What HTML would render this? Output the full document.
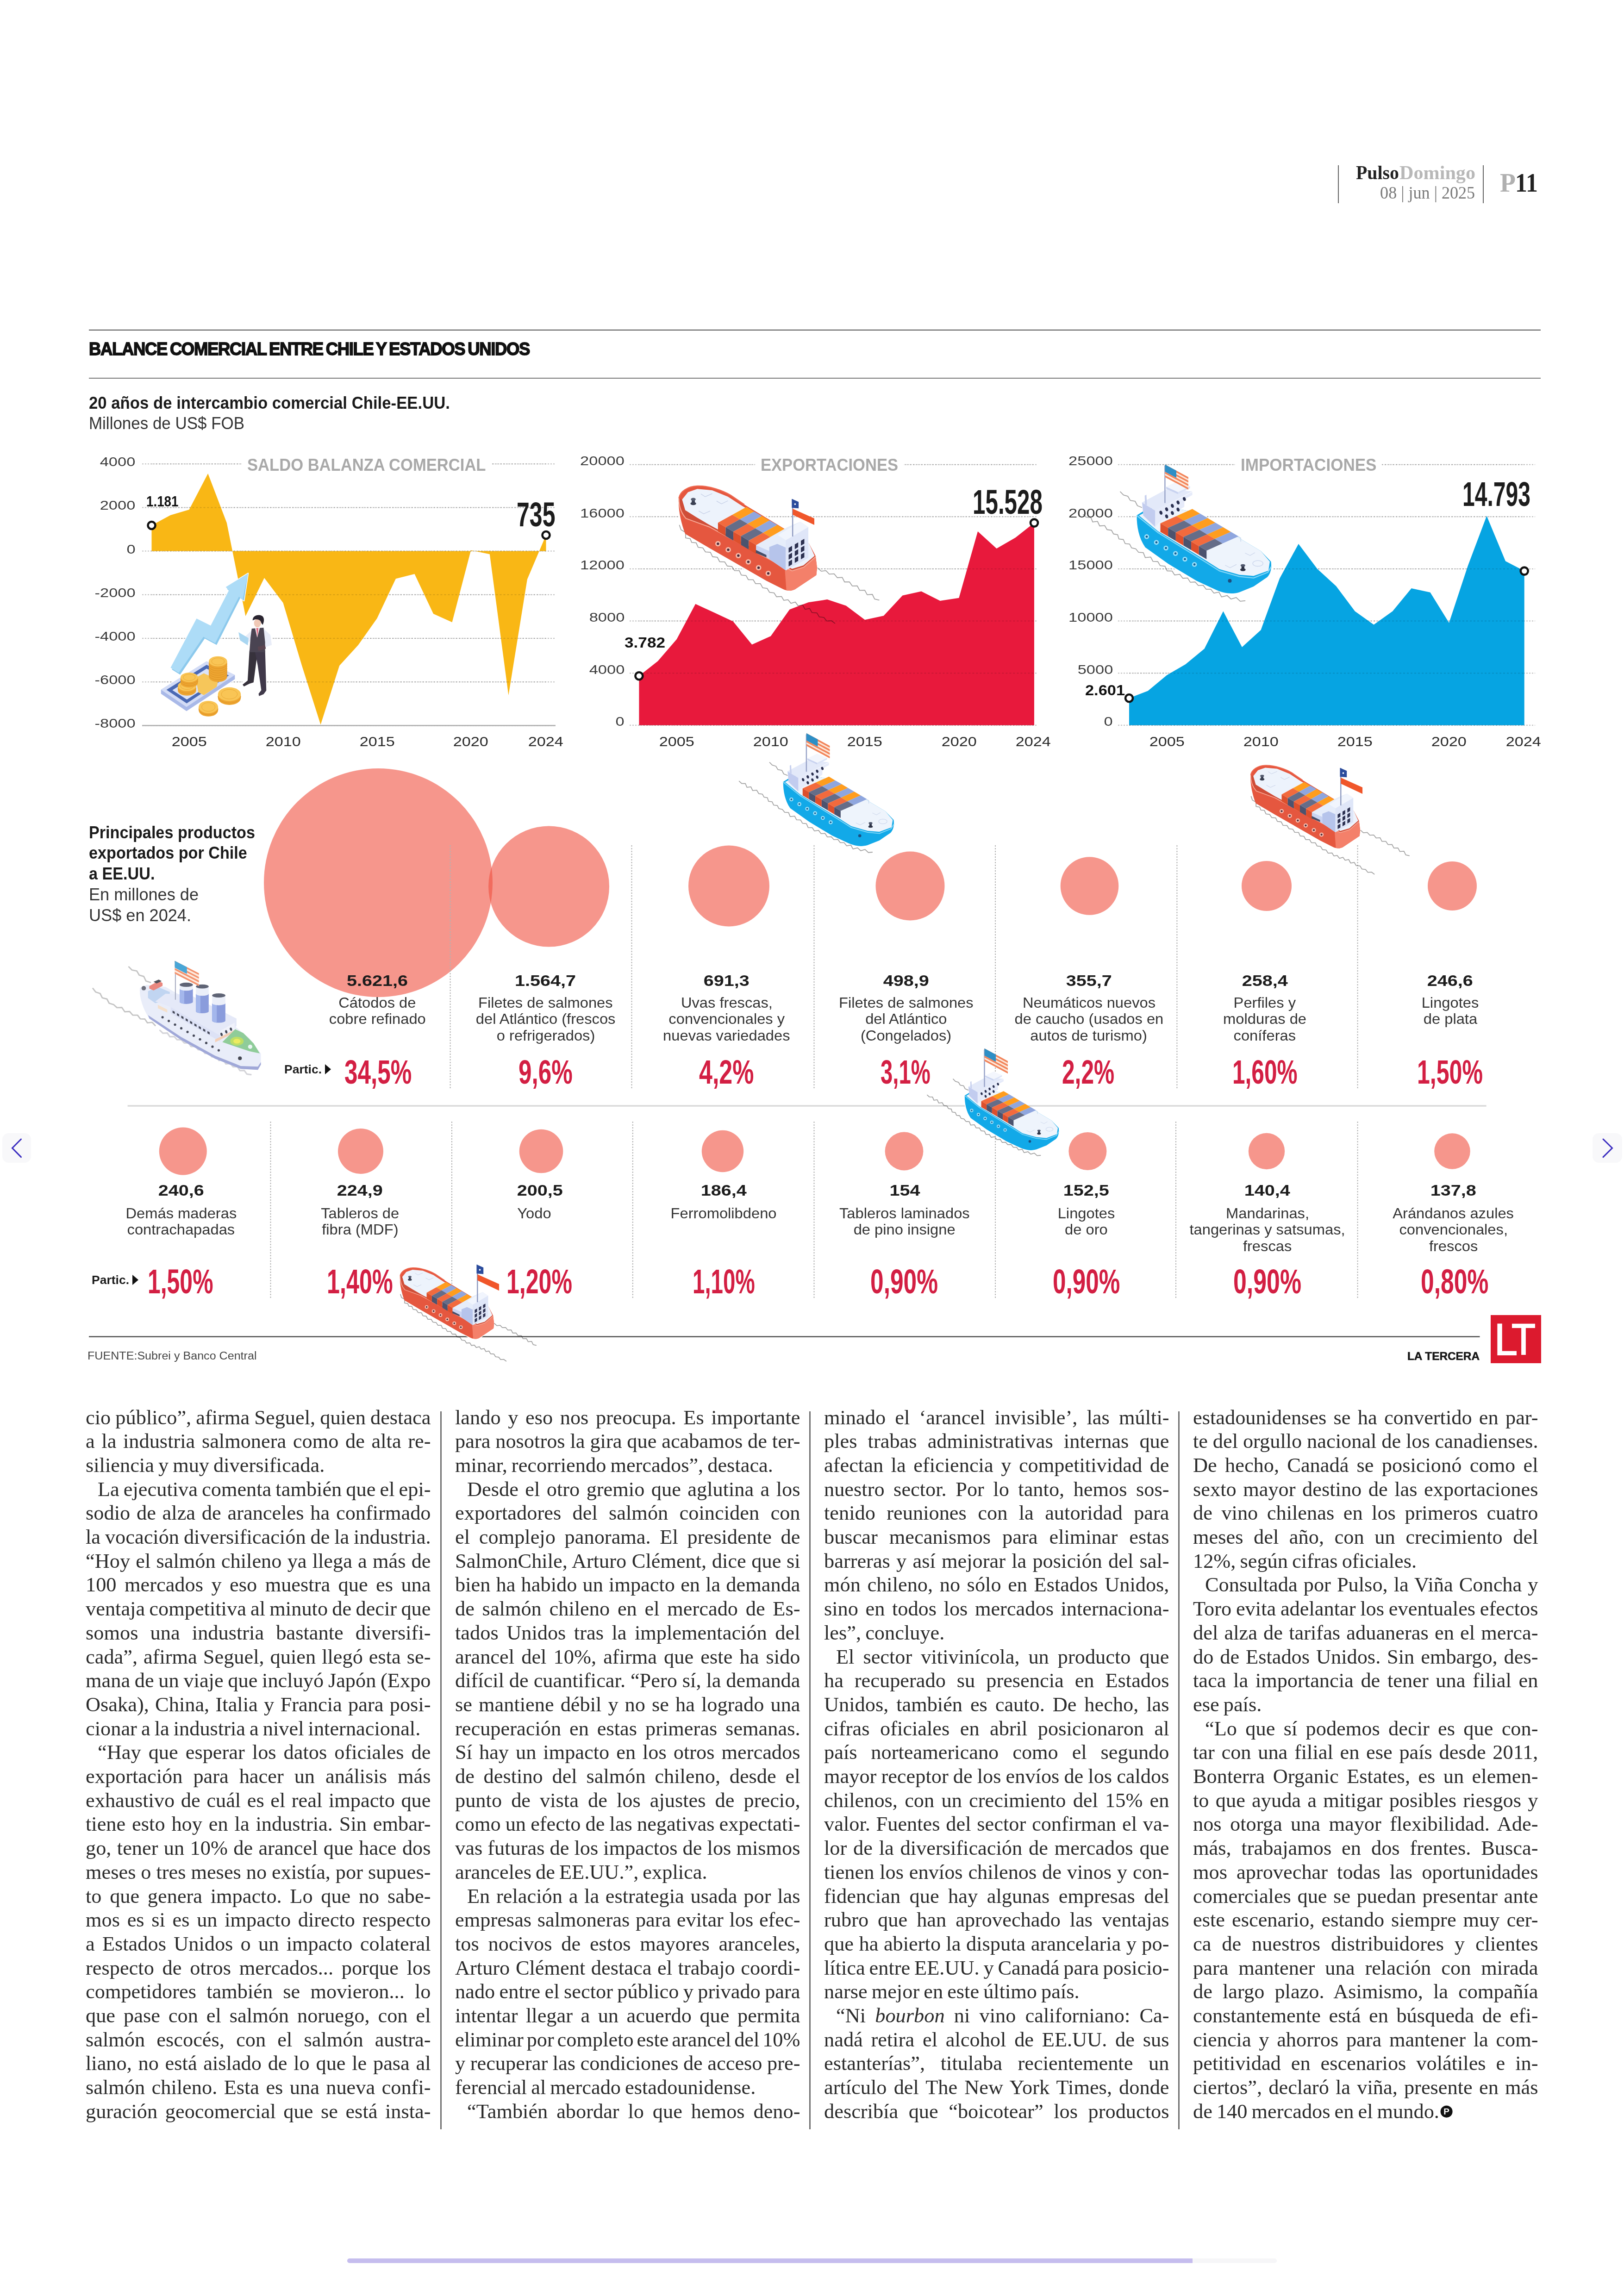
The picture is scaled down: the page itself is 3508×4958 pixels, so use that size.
<!DOCTYPE html><html lang="es"><head><meta charset="utf-8"><title>Balance comercial entre Chile y Estados Unidos</title>
<style>

html,body{margin:0;padding:0;background:#fff}
#pg{position:relative;width:3508px;height:4958px;overflow:hidden;background:#fff}
.t{position:absolute;white-space:nowrap;line-height:1;margin:0;padding:0}
.sa{font-family:"Liberation Sans",sans-serif}
.se{font-family:"Liberation Serif",serif}
.b{font-size:43.5px;color:#2b2b2b;transform:scaleX(1.02);transform-origin:left top}
.r{position:absolute}
svg{position:absolute;left:0;top:0}

</style></head><body><div id="pg">
<svg width="3508" height="4958" viewBox="0 0 3508 4958">
<defs><g id="redship"><g stroke="#fff" stroke-width="16" stroke-linejoin="round" fill="#fff"><path d="M85,150 C95,100 150,68 215,65 C300,62 400,100 450,130 L545,195 L1000,470 L1045,555 L1055,640 L1050,690 L900,790 C880,800 850,802 820,790 L700,730 L500,615 L300,500 L130,400 C100,320 80,230 85,150 Z"/></g>
<path d="M90,340 L101,372 L134,391 L133,429 L165,434 L176,461 L207,463 L221,495 L254,499 L272,527 L307,530 L322,561 L356,565 L372,596 L407,597 L425,626 L458,630 L476,658 L510,659 L524,690 L557,693 L573,722 L607,722 L624,750 L658,750 L674,779 L705,783 L722,811 L754,815 L771,842 L806,840 L822,867 L852,863 L872,888 L903,879 L922,905 L954,899 L971,930 L1003,924 L1020,953 L1054,955 L1071,983 L1103,987 L1123,1012 L1156,1010 L1180,1028" fill="none" stroke="#a3a3a3" stroke-width="1.80" vector-effect="non-scaling-stroke" stroke-linejoin="round" stroke-linecap="round" style="mix-blend-mode:multiply"/>
<path d="M1060,640 L1084,662 L1118,659 L1141,683 L1175,681 L1197,708 L1232,706 L1248,738 L1283,738 L1302,766 L1337,765 L1354,797 L1390,796 L1407,828 L1443,825 L1459,858 L1490,865" fill="none" stroke="#a3a3a3" stroke-width="1.80" vector-effect="non-scaling-stroke" stroke-linejoin="round" stroke-linecap="round" style="mix-blend-mode:multiply"/>
<path d="M85,150 C95,100 150,68 215,65 C300,62 400,100 450,130 L545,195 L1000,470 L1045,555 L1055,640 L1050,690 L900,790 C880,800 850,802 820,790 L700,730 L500,615 L300,500 L130,400 C100,320 80,230 85,150 Z" fill="#e5573f"/>
<polygon points="830,660 1045,555 1056,640 1050,690 900,790 870,800 840,797" fill="#f4806a" />
<polygon points="108,160 150,108 215,85 320,95 430,140 530,205 1000,470 1038,555 960,622 880,646 620,518 300,338 210,285 130,235" fill="#edf3fc" />
<polygon points="88,150 108,160 130,235 210,285 300,338 880,646 960,622 1038,555 1047,560 962,634 880,660 300,352 135,292 98,235" fill="#cf4d38" />
<path d="M86,152 C86,200 98,250 135,292 L300,352 L620,527 L880,660 L962,634 L1047,560" fill="none" stroke="#f7a592" stroke-width="7" stroke-linejoin="round"/>
<path d="M86,150 C95,100 150,68 215,65 C300,62 400,100 450,130 L545,195" fill="none" stroke="#ee6a52" stroke-width="8"/>
<ellipse cx="187" cy="188" rx="20" ry="11" fill="#3b4052"/><rect x="176" y="158" width="22" height="30" fill="#3b4052"/><ellipse cx="187" cy="158" rx="17" ry="10" fill="#555c70"/>
<path d="M240,120 L270,140 L320,118 M350,170 L385,190 L430,168 M225,240 L260,260 L305,240" fill="none" stroke="#c5cfe6" stroke-width="4"/>
<circle cx="360" cy="470" r="19" fill="#f7b9a9"/><circle cx="360" cy="470" r="8.6" fill="#4a2c3c"/>
<circle cx="432" cy="512" r="19" fill="#f7b9a9"/><circle cx="432" cy="512" r="8.6" fill="#4a2c3c"/>
<circle cx="503" cy="553" r="19" fill="#f7b9a9"/><circle cx="503" cy="553" r="8.6" fill="#4a2c3c"/>
<circle cx="573" cy="597" r="19" fill="#f7b9a9"/><circle cx="573" cy="597" r="8.6" fill="#4a2c3c"/>
<circle cx="645" cy="638" r="19" fill="#f7b9a9"/><circle cx="645" cy="638" r="8.6" fill="#4a2c3c"/>
<circle cx="713" cy="678" r="19" fill="#f7b9a9"/><circle cx="713" cy="678" r="8.6" fill="#4a2c3c"/>
<polygon points="460,267 514,298 614,244 560,212" fill="#ff9d1e" />
<polygon points="514,298 568,330 668,275 614,244" fill="#8fa6de" />
<polygon points="568,330 622,362 722,306 668,275" fill="#ff9d1e" />
<polygon points="622,362 676,393 776,338 722,306" fill="#8fa6de" />
<polygon points="676,393 730,424 830,370 776,338" fill="#ff9d1e" />
<polygon points="360,322 414,354 514,298 460,267" fill="#f26a3d" />
<polygon points="360,322 414,354 414,416 360,384" fill="#dd4f2c" />
<polygon points="414,354 468,385 568,330 514,298" fill="#656d88" />
<polygon points="414,354 468,385 468,447 414,416" fill="#4c536e" />
<polygon points="468,385 522,416 622,362 568,330" fill="#f26a3d" />
<polygon points="468,385 522,416 522,478 468,447" fill="#dd4f2c" />
<polygon points="522,416 576,448 676,393 622,362" fill="#656d88" />
<polygon points="522,416 576,448 576,510 522,478" fill="#4c536e" />
<polygon points="576,448 630,480 730,424 676,393" fill="#f26a3d" />
<polygon points="576,448 630,480 630,542 576,510" fill="#dd4f2c" />
<polygon points="630,480 700,516 700,562 630,530" fill="#474e68" />
<polygon points="628,479 848,353 938,315 994,353 994,569 836,657 628,515" fill="#e6edfa" />
<polygon points="628,481 720,521 720,577 628,521" fill="#c9d4f2" />
<polygon points="626,513 700,549 700,566 626,534" fill="#474e68" />
<polygon points="720,493 776,471 836,497 836,657 720,577" fill="#b6c4eb" />
<polygon points="836,445 994,353 994,569 836,657" fill="#dfe6f8" />
<polygon points="836,445 994,353 938,315 780,409" fill="#f1f5fd" />
<polygon points="856,499 880,485 880,519 856,533" fill="#2d3150" />
<polygon points="899,474 923,460 923,494 899,508" fill="#2d3150" />
<polygon points="942,449 966,435 966,469 942,483" fill="#2d3150" />
<polygon points="856,547 880,533 880,567 856,581" fill="#2d3150" />
<polygon points="899,522 923,508 923,542 899,556" fill="#2d3150" />
<polygon points="942,497 966,483 966,517 942,531" fill="#2d3150" />
<polygon points="856,595 880,581 880,615 856,629" fill="#2d3150" />
<polygon points="899,570 923,556 923,590 899,604" fill="#2d3150" />
<polygon points="942,545 966,531 966,565 942,579" fill="#2d3150" /></g><g id="blueship"><g stroke="#fff" stroke-width="16" stroke-linejoin="round" fill="#fff"><path d="M180,400 L226,372 L330,330 L600,380 L940,585 L1050,650 L1122,725 C1128,770 1120,810 1095,835 L1000,900 L900,940 C850,955 800,950 740,925 L600,860 L400,740 L240,625 C195,560 180,480 180,400 Z"/></g>
<path d="M65,235 L87,258 L118,267 L135,296 L169,302 L185,333 L215,345" fill="none" stroke="#a3a3a3" stroke-width="1.80" vector-effect="non-scaling-stroke" stroke-linejoin="round" stroke-linecap="round" style="mix-blend-mode:multiply"/>
<path d="M-195,395 L-174,414 L-142,415 L-129,447 L-95,443 L-80,475 L-45,472 L-28,501 L3,505 L17,531 L46,536 L55,566 L86,570 L99,599 L130,602 L144,629 L173,635 L193,660 L226,662 L240,697 L278,693 L294,724 L328,725 L345,754 L378,757 L393,790 L428,791 L446,819 L482,814 L503,842 L537,840 L556,870 L590,868 L612,893 L646,891 L667,919 L700,919 L721,946 L757,939 L775,973 L814,963 L842,988 L878,977 L906,1003 L940,1000" fill="none" stroke="#a3a3a3" stroke-width="1.80" vector-effect="non-scaling-stroke" stroke-linejoin="round" stroke-linecap="round" style="mix-blend-mode:multiply"/>
<path d="M180,400 L226,372 L330,330 L600,380 L940,585 L1050,650 L1122,725 C1128,770 1120,810 1095,835 L1000,900 L900,940 C850,955 800,950 740,925 L600,860 L400,740 L240,625 C195,560 180,480 180,400 Z" fill="#12a9e8"/>
<polygon points="196,402 330,330 600,380 940,585 1050,650 1114,725 1104,788 1000,826 900,818 760,778 650,708 330,512" fill="#eef4fc" />
<path d="M181,402 L330,522 L650,720 L760,790 L900,830 L1000,840 L1100,800 L1124,760" fill="none" stroke="#7dd5f7" stroke-width="8" stroke-linejoin="round"/>
<path d="M640,400 L910,560 L910,585" fill="none" stroke="#bcd0ea" stroke-width="4"/>
<circle cx="250" cy="550" r="17" fill="#9be0fa"/><circle cx="250" cy="550" r="7.7" fill="#175f92"/>
<circle cx="318" cy="590" r="17" fill="#9be0fa"/><circle cx="318" cy="590" r="7.7" fill="#175f92"/>
<circle cx="385" cy="630" r="17" fill="#9be0fa"/><circle cx="385" cy="630" r="7.7" fill="#175f92"/>
<circle cx="452" cy="668" r="17" fill="#9be0fa"/><circle cx="452" cy="668" r="7.7" fill="#175f92"/>
<circle cx="518" cy="708" r="17" fill="#9be0fa"/><circle cx="518" cy="708" r="7.7" fill="#175f92"/>
<circle cx="585" cy="745" r="17" fill="#9be0fa"/><circle cx="585" cy="745" r="7.7" fill="#175f92"/>
<circle cx="833" cy="860" r="13" fill="#1b4f80"/>
<ellipse cx="925" cy="782" rx="19" ry="10" fill="#2d3346"/><rect x="915" y="752" width="20" height="30" fill="#2d3346"/><ellipse cx="925" cy="752" rx="16" ry="9" fill="#4d556b"/>
<ellipse cx="1030" cy="738" rx="36" ry="20" fill="none" stroke="#cfd9ee" stroke-width="5"/>
<path d="M800,750 L835,768 L880,745 M940,665 L975,682 L1010,662" fill="none" stroke="#cbd5ea" stroke-width="4"/>
<polygon points="458,406 512,438 624,388 570,356" fill="#ff9d1e" />
<polygon points="512,438 566,470 678,420 624,388" fill="#8fa6de" />
<polygon points="566,470 620,502 732,452 678,420" fill="#ff9d1e" />
<polygon points="620,502 674,534 786,484 732,452" fill="#8fa6de" />
<polygon points="674,534 728,566 840,516 786,484" fill="#ff9d1e" />
<polygon points="728,566 782,598 894,548 840,516" fill="#8fa6de" />
<polygon points="346,456 400,488 512,438 458,406" fill="#f26a3d" />
<polygon points="346,456 400,488 400,548 346,516" fill="#dd4f2c" />
<polygon points="400,488 454,520 566,470 512,438" fill="#656d88" />
<polygon points="400,488 454,520 454,580 400,548" fill="#4c536e" />
<polygon points="454,520 508,552 620,502 566,470" fill="#f26a3d" />
<polygon points="454,520 508,552 508,612 454,580" fill="#dd4f2c" />
<polygon points="508,552 562,584 674,534 620,502" fill="#656d88" />
<polygon points="508,552 562,584 562,644 508,612" fill="#4c536e" />
<polygon points="562,584 616,616 728,566 674,534" fill="#f26a3d" />
<polygon points="562,584 616,616 616,676 562,644" fill="#dd4f2c" />
<polygon points="616,616 670,648 782,598 728,566" fill="#656d88" />
<polygon points="616,616 670,648 670,708 616,676" fill="#4c536e" />
<polygon points="214,312 390,218 570,232 310,368" fill="#e3e9f9" />
<polygon points="386,200 470,160 554,196 470,238" fill="#f3f6fd" />
<polygon points="386,200 470,238 470,252 386,214" fill="#c9d3f0" />
<polygon points="470,238 554,196 554,210 470,252" fill="#dbe3f7" />
<polygon points="218,312 310,368 310,482 226,402" fill="#c2ccef" />
<polygon points="310,368 570,236 570,258 514,288 514,340 338,450 310,482" fill="#e6ebfa" />
<polygon points="236,262 248,256 252,330 238,324" fill="#c7d0ee" />
<ellipse cx="514" cy="286" rx="10" ry="14" fill="#2a3050" transform="rotate(-20 514 286)"/>
<ellipse cx="470" cy="310" rx="10" ry="14" fill="#2a3050" transform="rotate(-20 470 310)"/>
<ellipse cx="430" cy="334" rx="10" ry="14" fill="#2a3050" transform="rotate(-20 430 334)"/>
<ellipse cx="390" cy="358" rx="10" ry="14" fill="#2a3050" transform="rotate(-20 390 358)"/>
<ellipse cx="350" cy="382" rx="10" ry="14" fill="#2a3050" transform="rotate(-20 350 382)"/>
<ellipse cx="470" cy="360" rx="10" ry="14" fill="#2a3050" transform="rotate(-20 470 360)"/>
<ellipse cx="430" cy="384" rx="10" ry="14" fill="#2a3050" transform="rotate(-20 430 384)"/>
<ellipse cx="390" cy="408" rx="10" ry="14" fill="#2a3050" transform="rotate(-20 390 408)"/></g><g id="redflag"><rect x="880" y="157" width="8" height="262" fill="#8f9bc0"/>
<polygon points="878,155 926,176 926,222 878,218" fill="#2b4c9c" />
<circle cx="901" cy="192" r="6" fill="#fff"/>
<polygon points="884,224 1036,292 1036,338 884,266" fill="#f0562a" /></g><g id="blueflag"><rect x="374" y="52" width="8" height="262" fill="#98a3c8"/>
<polygon points="378,44 542,132 542,220 378,132" fill="#fde9dc" />
<polygon points="378,44 542,132 542,145 378,57" fill="#f2845a" />
<polygon points="378,69 542,157 542,170 378,82" fill="#f2845a" />
<polygon points="378,94 542,182 542,195 378,107" fill="#f2845a" />
<polygon points="378,119 542,207 542,220 378,132" fill="#f2845a" />
<polygon points="378,44 458,87 458,137 378,94" fill="#2e8fc6" /></g><g id="cruise" opacity="0.88"><path d="M-429,408 L-397,450 L-345,467 L-320,518 L-265,532 L-239,582 L-186,598 L-148,633 L-91,631 L-57,681 L0,678 L37,721 L93,721 L125,764 L178,766 L208,810 L265,805 L299,842" fill="none" stroke="#bdbdbd" stroke-width="2.88" vector-effect="non-scaling-stroke" stroke-linejoin="round" stroke-linecap="round" style="mix-blend-mode:multiply"/>
<path d="M-9,156 L28,193 L84,204 L113,253 L166,268 L191,321 L243,338" fill="none" stroke="#bdbdbd" stroke-width="2.88" vector-effect="non-scaling-stroke" stroke-linejoin="round" stroke-linecap="round" style="mix-blend-mode:multiply"/>
<path d="M355,898 L389,932 L441,929 L471,973 L522,971 L555,1008 L605,1008 L638,1045 L689,1045 L718,1088 L770,1085 L802,1124 L850,1128 L882,1168 L932,1169 L963,1208 L1017,1203 L1044,1250 L1098,1244 L1125,1291 L1178,1287 L1210,1325 L1261,1325 L1290,1369 L1341,1368 L1371,1410 L1419,1416" fill="none" stroke="#cfcfd4" stroke-width="3.24" vector-effect="non-scaling-stroke" stroke-linejoin="round" stroke-linecap="round" style="mix-blend-mode:multiply"/>
<path d="M120,400 L200,365 L420,390 L1230,850 L1400,990 L1535,1170 L1535,1300 L1500,1360 L1300,1350 L1000,1230 L600,1010 L230,760 C150,640 110,500 120,400 Z" fill="#e7ebf9"/>
<polygon points="215,720 600,975 1000,1195 1300,1315 1500,1322 1535,1270 1535,1300 1500,1360 1300,1350 1000,1230 600,1010 230,760" fill="#939dd3" />
<circle cx="165" cy="405" r="26" fill="#5a5d6c"/>
<polygon points="215,440 330,390 470,450 470,540 300,580 215,520" fill="#b9d0f0" />
<polygon points="230,380 340,320 385,345 385,378 280,432 230,410" fill="#e8786e" />
<polygon points="280,330 340,305 375,322 315,350" fill="#3a3a44" />
<polygon points="330,600 440,655 440,690 330,640" fill="#f3dcc4" />
<polygon points="300,560 420,470 700,480 1250,760 1250,850 1060,960 480,625" fill="#e2e7f8" />
<polygon points="480,625 1060,960 1060,1030 480,700" fill="#d9dff5" />
<polygon points="1058,905 1228,808 1228,885 1058,990" fill="#eef1fb" />
<polygon points="1000,1005 1225,895 1225,925 1000,1038" fill="#f3c9ac" />
<polygon points="1085,1035 1235,885 1330,930 1450,1050 1522,1168 1400,1142 1250,1092" fill="#80c68c" />
<ellipse cx="1255" cy="1025" rx="78" ry="52" fill="#b4da52"/><ellipse cx="1255" cy="1025" rx="42" ry="28" fill="#ebe94c"/>
<circle cx="1410" cy="1090" r="25" fill="#e6f3f2"/>
<circle cx="1290" cy="1225" r="22" fill="#2a2d3a"/>
<polygon points="502,667 528,681 528,707 502,693" fill="#2c3042" />
<polygon points="553,697 579,711 579,737 553,723" fill="#2c3042" />
<polygon points="604,727 630,741 630,767 604,753" fill="#2c3042" />
<polygon points="655,757 681,771 681,797 655,783" fill="#2c3042" />
<polygon points="706,787 732,801 732,827 706,813" fill="#2c3042" />
<polygon points="757,817 783,831 783,857 757,843" fill="#2c3042" />
<polygon points="808,847 834,861 834,887 808,873" fill="#2c3042" />
<polygon points="859,877 885,891 885,917 859,903" fill="#2c3042" />
<polygon points="910,907 936,921 936,947 910,933" fill="#2c3042" />
<circle cx="385" cy="745" r="14" fill="#2c3042"/>
<circle cx="458" cy="788" r="14" fill="#2c3042"/>
<circle cx="531" cy="831" r="14" fill="#2c3042"/>
<circle cx="604" cy="874" r="14" fill="#2c3042"/>
<circle cx="677" cy="917" r="14" fill="#2c3042"/>
<circle cx="750" cy="960" r="14" fill="#2c3042"/>
<circle cx="823" cy="1003" r="14" fill="#2c3042"/>
<circle cx="896" cy="1046" r="14" fill="#2c3042"/>
<circle cx="969" cy="1089" r="14" fill="#2c3042"/>
<circle cx="1042" cy="1132" r="14" fill="#2c3042"/>
<ellipse cx="1075" cy="945" rx="13" ry="20" fill="#2c3042" transform="rotate(-15 1075 945)"/>
<ellipse cx="1130" cy="915" rx="13" ry="20" fill="#2c3042" transform="rotate(-15 1130 915)"/>
<ellipse cx="1185" cy="885" rx="13" ry="20" fill="#2c3042" transform="rotate(-15 1185 885)"/>
<rect x="530" y="90" width="11" height="450" fill="#9aa0b8"/>
<path d="M585,410 L585,565 A77.5,24.8 0 0 0 740,565 L740,410 Z" fill="#7b8fd8"/><path d="M585,410 L585,565 A77.5,24.8 0 0 0 639,589 L639,410 Z" fill="#98aeea"/><path d="M585,365 L585,410 A77.5,24.8 0 0 0 740,410 L740,365 Z" fill="#e9edf9"/><ellipse cx="662.5" cy="365" rx="77.5" ry="24.8" fill="#4a4f63"/>
<path d="M775,470 L775,675 A75.0,24.0 0 0 0 925,675 L925,470 Z" fill="#7b8fd8"/><path d="M775,470 L775,675 A75.0,24.0 0 0 0 828,698 L828,470 Z" fill="#98aeea"/><path d="M775,385 L775,470 A75.0,24.0 0 0 0 925,470 L925,385 Z" fill="#e9edf9"/><ellipse cx="850.0" cy="385" rx="75.0" ry="24.0" fill="#4a4f63"/>
<path d="M965,580 L965,785 A77.5,24.8 0 0 0 1120,785 L1120,580 Z" fill="#7b8fd8"/><path d="M965,580 L965,785 A77.5,24.8 0 0 0 1019,809 L1019,580 Z" fill="#98aeea"/><path d="M965,490 L965,580 A77.5,24.8 0 0 0 1120,580 L1120,490 Z" fill="#e9edf9"/><ellipse cx="1042.5" cy="490" rx="77.5" ry="24.8" fill="#4a4f63"/>
<polygon points="528,85 810,230 810,380 528,235" fill="#fde9dc" />
<polygon points="528,85 810,230 810,251 528,106" fill="#f2845a" />
<polygon points="528,128 810,273 810,294 528,149" fill="#f2845a" />
<polygon points="528,171 810,316 810,337 528,192" fill="#f2845a" />
<polygon points="528,214 810,359 810,380 528,235" fill="#f2845a" />
<polygon points="528,85 670,158 670,238 528,165" fill="#2f9ad2" /></g><g id="money"><g fill="#fff" stroke="#fff" stroke-width="14" stroke-linejoin="round"><polygon points="195,1130 480,590 635,668 835,280 800,245 1045,95 1000,395 960,365 700,880 570,810 300,1205" fill="#fff" /><polygon points="90,1370 590,1060 900,1210 900,1255 370,1605 90,1415" fill="#fff" /><polygon points="1085,560 1215,560 1300,770 1305,880 1240,940 1245,1380 1165,1440 1000,1335 985,1315 1060,940 940,740" fill="#fff" /><ellipse cx="840" cy="1440" rx="125" ry="90"/><ellipse cx="610" cy="1580" rx="106" ry="80"/><ellipse cx="715" cy="1100" rx="100" ry="90"/></g>
<polygon points="210,1150 495,610 650,690 850,300 815,265 1045,95 1000,395 960,365 700,880 570,810 300,1205" fill="#8cc9ec" />
<polygon points="195,1130 480,590 635,668 835,280 800,245 1045,95 985,385 945,350 685,860 555,790 285,1185" fill="#addcf7" />
<polygon points="90,1370 590,1060 900,1210 900,1255 370,1605 90,1415" fill="#a9b9e8" />
<polygon points="90,1370 590,1060 900,1210 370,1560" fill="#d3dcf6" />
<polygon points="150,1372 590,1098 835,1214 372,1520" fill="#4a69b4" />
<polygon points="215,1375 590,1140 770,1222 374,1478" fill="#dbe3f8" />
<polygon points="470,1240 560,1190 720,1265 700,1340 560,1430 500,1400" fill="#f6c65a" />
<path d="M615,1060 L615,1230 A100,56 0 0 0 815,1230 L815,1060 Z" fill="#eda531"/><path d="M615,1084 A100,56 0 0 0 815,1084" fill="none" stroke="#d98e20" stroke-width="4"/><path d="M615,1109 A100,56 0 0 0 815,1109" fill="none" stroke="#d98e20" stroke-width="4"/><path d="M615,1133 A100,56 0 0 0 815,1133" fill="none" stroke="#d98e20" stroke-width="4"/><path d="M615,1157 A100,56 0 0 0 815,1157" fill="none" stroke="#d98e20" stroke-width="4"/><path d="M615,1181 A100,56 0 0 0 815,1181" fill="none" stroke="#d98e20" stroke-width="4"/><path d="M615,1206 A100,56 0 0 0 815,1206" fill="none" stroke="#d98e20" stroke-width="4"/><ellipse cx="715" cy="1060" rx="100" ry="56" fill="#f9c555"/><ellipse cx="715" cy="1060" rx="70" ry="39" fill="none" stroke="#eaa935" stroke-width="5"/>
<path d="M275,1330 L275,1380 A100,55 0 0 0 475,1380 L475,1330 Z" fill="#eda531"/><path d="M275,1355 A100,55 0 0 0 475,1355" fill="none" stroke="#d98e20" stroke-width="4"/><ellipse cx="375" cy="1330" rx="100" ry="55" fill="#f9c555"/><ellipse cx="375" cy="1330" rx="70" ry="38" fill="none" stroke="#eaa935" stroke-width="5"/>
<path d="M305,1235 L305,1295 A95,52 0 0 0 495,1295 L495,1235 Z" fill="#eda531"/><path d="M305,1255 A95,52 0 0 0 495,1255" fill="none" stroke="#d98e20" stroke-width="4"/><path d="M305,1275 A95,52 0 0 0 495,1275" fill="none" stroke="#d98e20" stroke-width="4"/><ellipse cx="400" cy="1235" rx="95" ry="52" fill="#f9c555"/><ellipse cx="400" cy="1235" rx="66" ry="36" fill="none" stroke="#eaa935" stroke-width="5"/>
<path d="M715,1420 L715,1462 A125,76 0 0 0 965,1462 L965,1420 Z" fill="#eda531"/><path d="M715,1441 A125,76 0 0 0 965,1441" fill="none" stroke="#d98e20" stroke-width="4"/><ellipse cx="840" cy="1420" rx="125" ry="76" fill="#f9c555"/><ellipse cx="840" cy="1420" rx="88" ry="53" fill="none" stroke="#eaa935" stroke-width="5"/>
<path d="M504,1560 L504,1596 A106,68 0 0 0 716,1596 L716,1560 Z" fill="#eda531"/><path d="M504,1578 A106,68 0 0 0 716,1578" fill="none" stroke="#d98e20" stroke-width="4"/><ellipse cx="610" cy="1560" rx="106" ry="68" fill="#f9c555"/><ellipse cx="610" cy="1560" rx="74" ry="48" fill="none" stroke="#eaa935" stroke-width="5"/>
<polygon points="1060,940 1150,950 1105,1290 1060,1305 1000,1335 985,1315 1040,1270" fill="#37323c" />
<polygon points="1120,950 1232,940 1245,1380 1215,1420 1165,1440 1160,1415 1190,1375 1150,1100" fill="#40394a" />
<polygon points="1215,700 1290,770 1305,880 1235,905 1215,800" fill="#e9edf8" />
<polygon points="1085,720 1010,790 1040,860 1095,810" fill="#e9edf8" />
<polygon points="940,740 1050,805 1042,885 958,830" fill="#a9d6f1" />
<polygon points="1085,700 1215,690 1232,850 1232,960 1060,960 1072,800" fill="#4a4452" />
<polygon points="1120,690 1175,690 1145,800" fill="#f1e9ee" />
<polygon points="1135,695 1158,695 1148,790" fill="#e0667e" />
<polygon points="1150,900 1230,880 1240,920 1160,945" fill="#5a4450" />
<ellipse cx="1148" cy="640" rx="38" ry="48" fill="#f0c9b6"/>
<path d="M1095,610 C1095,560 1150,540 1195,560 C1225,575 1225,620 1205,660 L1190,640 C1185,610 1160,595 1120,600 Z" fill="#2a2530"/></g></defs>
<line x1="307" y1="1002.2" x2="1200" y2="1002.2" stroke="#bdbdbd" stroke-width="2" stroke-dasharray="3 3"/>
<line x1="307" y1="1096.4" x2="1200" y2="1096.4" stroke="#bdbdbd" stroke-width="2" stroke-dasharray="3 3"/>
<line x1="307" y1="1190.6" x2="1200" y2="1190.6" stroke="#bdbdbd" stroke-width="2" stroke-dasharray="3 3"/>
<line x1="307" y1="1284.8" x2="1200" y2="1284.8" stroke="#bdbdbd" stroke-width="2" stroke-dasharray="3 3"/>
<line x1="307" y1="1379.0" x2="1200" y2="1379.0" stroke="#bdbdbd" stroke-width="2" stroke-dasharray="3 3"/>
<line x1="307" y1="1473.2" x2="1200" y2="1473.2" stroke="#bdbdbd" stroke-width="2" stroke-dasharray="3 3"/>
<line x1="307" y1="1567.4" x2="1200" y2="1567.4" stroke="#bdbdbd" stroke-width="2" stroke-dasharray="3 3"/>
<path d="M327.5,1190.6 L327.5,1135.0 L368.1,1112.9 L408.6,1101.1 L449.2,1022.9 L489.8,1129.4 L530.4,1331.0 L570.9,1248.5 L611.5,1302.2 L652.1,1437.9 L692.6,1565.5 L733.2,1437.9 L773.8,1393.6 L814.4,1336.1 L854.9,1250.2 L895.5,1240.1 L936.1,1326.0 L976.6,1344.3 L1017.2,1188.7 L1057.8,1197.2 L1098.4,1502.1 L1138.9,1251.4 L1179.5,1156.0 L1179.5,1190.6 Z" fill="#f9b715"/>
<line x1="327.5" y1="1002.2" x2="1179.5" y2="1002.2" stroke="#000" stroke-opacity="0.13" stroke-width="2" stroke-dasharray="4 4"/>
<line x1="327.5" y1="1096.4" x2="1179.5" y2="1096.4" stroke="#000" stroke-opacity="0.13" stroke-width="2" stroke-dasharray="4 4"/>
<line x1="327.5" y1="1190.6" x2="1179.5" y2="1190.6" stroke="#000" stroke-opacity="0.13" stroke-width="2" stroke-dasharray="4 4"/>
<line x1="327.5" y1="1284.8" x2="1179.5" y2="1284.8" stroke="#000" stroke-opacity="0.13" stroke-width="2" stroke-dasharray="4 4"/>
<line x1="327.5" y1="1379.0" x2="1179.5" y2="1379.0" stroke="#000" stroke-opacity="0.13" stroke-width="2" stroke-dasharray="4 4"/>
<line x1="327.5" y1="1473.2" x2="1179.5" y2="1473.2" stroke="#000" stroke-opacity="0.13" stroke-width="2" stroke-dasharray="4 4"/>
<line x1="327.5" y1="1567.4" x2="1179.5" y2="1567.4" stroke="#000" stroke-opacity="0.13" stroke-width="2" stroke-dasharray="4 4"/>
<rect x="522" y="996.1999999999999" width="539.5" height="12" fill="#fff"/>
<rect x="307" y="1566" width="893" height="2.8" fill="#b5b5b5"/>
<line x1="1360" y1="1003.7" x2="2240" y2="1003.7" stroke="#bdbdbd" stroke-width="2" stroke-dasharray="3 3"/>
<line x1="1360" y1="1116.3" x2="2240" y2="1116.3" stroke="#bdbdbd" stroke-width="2" stroke-dasharray="3 3"/>
<line x1="1360" y1="1228.9" x2="2240" y2="1228.9" stroke="#bdbdbd" stroke-width="2" stroke-dasharray="3 3"/>
<line x1="1360" y1="1341.6" x2="2240" y2="1341.6" stroke="#bdbdbd" stroke-width="2" stroke-dasharray="3 3"/>
<line x1="1360" y1="1454.2" x2="2240" y2="1454.2" stroke="#bdbdbd" stroke-width="2" stroke-dasharray="3 3"/>
<line x1="1360" y1="1566.8" x2="2240" y2="1566.8" stroke="#bdbdbd" stroke-width="2" stroke-dasharray="3 3"/>
<path d="M1380.4,1566.8 L1380.4,1460.3 L1421.0,1428.3 L1461.7,1381.0 L1502.3,1304.7 L1543.0,1323.5 L1583.6,1342.4 L1624.3,1392.5 L1664.9,1374.2 L1705.6,1316.8 L1746.2,1301.3 L1786.9,1295.1 L1827.5,1308.6 L1868.2,1339.0 L1908.8,1330.3 L1949.5,1286.4 L1990.1,1277.6 L2030.8,1297.9 L2071.4,1291.7 L2112.1,1147.9 L2152.7,1185.0 L2193.4,1161.4 L2234.0,1129.6 L2234.0,1566.8 Z" fill="#e8193c"/>
<line x1="1380.4" y1="1003.7" x2="2234" y2="1003.7" stroke="#000" stroke-opacity="0.13" stroke-width="2" stroke-dasharray="4 4"/>
<line x1="1380.4" y1="1116.3" x2="2234" y2="1116.3" stroke="#000" stroke-opacity="0.13" stroke-width="2" stroke-dasharray="4 4"/>
<line x1="1380.4" y1="1228.9" x2="2234" y2="1228.9" stroke="#000" stroke-opacity="0.13" stroke-width="2" stroke-dasharray="4 4"/>
<line x1="1380.4" y1="1341.6" x2="2234" y2="1341.6" stroke="#000" stroke-opacity="0.13" stroke-width="2" stroke-dasharray="4 4"/>
<line x1="1380.4" y1="1454.2" x2="2234" y2="1454.2" stroke="#000" stroke-opacity="0.13" stroke-width="2" stroke-dasharray="4 4"/>
<line x1="1380.4" y1="1566.8" x2="2234" y2="1566.8" stroke="#000" stroke-opacity="0.13" stroke-width="2" stroke-dasharray="4 4"/>
<rect x="1631" y="997.6999999999999" width="321" height="12" fill="#fff"/>
<line x1="2415" y1="1003.7" x2="3316" y2="1003.7" stroke="#bdbdbd" stroke-width="2" stroke-dasharray="3 3"/>
<line x1="2415" y1="1116.3" x2="3316" y2="1116.3" stroke="#bdbdbd" stroke-width="2" stroke-dasharray="3 3"/>
<line x1="2415" y1="1228.9" x2="3316" y2="1228.9" stroke="#bdbdbd" stroke-width="2" stroke-dasharray="3 3"/>
<line x1="2415" y1="1341.6" x2="3316" y2="1341.6" stroke="#bdbdbd" stroke-width="2" stroke-dasharray="3 3"/>
<line x1="2415" y1="1454.2" x2="3316" y2="1454.2" stroke="#bdbdbd" stroke-width="2" stroke-dasharray="3 3"/>
<line x1="2415" y1="1566.8" x2="3316" y2="1566.8" stroke="#bdbdbd" stroke-width="2" stroke-dasharray="3 3"/>
<path d="M2439.0,1566.8 L2439.0,1508.2 L2479.7,1492.5 L2520.3,1458.7 L2561.0,1435.0 L2601.6,1401.5 L2642.3,1320.4 L2682.9,1398.1 L2723.6,1360.9 L2764.2,1249.4 L2804.9,1175.1 L2845.5,1228.9 L2886.2,1266.3 L2926.8,1320.4 L2967.5,1349.4 L3008.1,1320.4 L3048.8,1271.1 L3089.4,1279.8 L3130.1,1345.4 L3170.7,1222.4 L3211.4,1114.5 L3252.0,1212.3 L3292.7,1233.6 L3292.7,1566.8 Z" fill="#06a4e2"/>
<line x1="2439" y1="1003.7" x2="3292.7" y2="1003.7" stroke="#000" stroke-opacity="0.13" stroke-width="2" stroke-dasharray="4 4"/>
<line x1="2439" y1="1116.3" x2="3292.7" y2="1116.3" stroke="#000" stroke-opacity="0.13" stroke-width="2" stroke-dasharray="4 4"/>
<line x1="2439" y1="1228.9" x2="3292.7" y2="1228.9" stroke="#000" stroke-opacity="0.13" stroke-width="2" stroke-dasharray="4 4"/>
<line x1="2439" y1="1341.6" x2="3292.7" y2="1341.6" stroke="#000" stroke-opacity="0.13" stroke-width="2" stroke-dasharray="4 4"/>
<line x1="2439" y1="1454.2" x2="3292.7" y2="1454.2" stroke="#000" stroke-opacity="0.13" stroke-width="2" stroke-dasharray="4 4"/>
<line x1="2439" y1="1566.8" x2="3292.7" y2="1566.8" stroke="#000" stroke-opacity="0.13" stroke-width="2" stroke-dasharray="4 4"/>
<rect x="2667.5" y="997.6999999999999" width="317.5" height="12" fill="#fff"/>
<circle cx="817" cy="1907" r="247" fill="#f05040" fill-opacity="0.6"/>
<circle cx="1185.6" cy="1915" r="130.5" fill="#f05040" fill-opacity="0.6"/>
<circle cx="1574.5" cy="1914" r="87.5" fill="#f05040" fill-opacity="0.6"/>
<circle cx="1966" cy="1914" r="74.5" fill="#f05040" fill-opacity="0.6"/>
<circle cx="2353.5" cy="1914" r="62.8" fill="#f05040" fill-opacity="0.6"/>
<circle cx="2736" cy="1914" r="54" fill="#f05040" fill-opacity="0.6"/>
<circle cx="3137" cy="1914" r="53" fill="#f05040" fill-opacity="0.6"/>
<line x1="972.6" y1="1826" x2="972.6" y2="2351" stroke="#b2b2b2" stroke-width="2" stroke-dasharray="3 3"/>
<line x1="1364.5" y1="1826" x2="1364.5" y2="2351" stroke="#b2b2b2" stroke-width="2" stroke-dasharray="3 3"/>
<line x1="1758.5" y1="1826" x2="1758.5" y2="2351" stroke="#b2b2b2" stroke-width="2" stroke-dasharray="3 3"/>
<line x1="2150" y1="1826" x2="2150" y2="2351" stroke="#b2b2b2" stroke-width="2" stroke-dasharray="3 3"/>
<line x1="2542.4" y1="1826" x2="2542.4" y2="2351" stroke="#b2b2b2" stroke-width="2" stroke-dasharray="3 3"/>
<line x1="2932.6" y1="1826" x2="2932.6" y2="2351" stroke="#b2b2b2" stroke-width="2" stroke-dasharray="3 3"/>
<circle cx="395.3" cy="2487" r="51.5" fill="#f05040" fill-opacity="0.6"/>
<circle cx="779" cy="2487" r="49" fill="#f05040" fill-opacity="0.6"/>
<circle cx="1169" cy="2487" r="47.3" fill="#f05040" fill-opacity="0.6"/>
<circle cx="1561" cy="2487" r="45.2" fill="#f05040" fill-opacity="0.6"/>
<circle cx="1953" cy="2487" r="41.4" fill="#f05040" fill-opacity="0.6"/>
<circle cx="2349.4" cy="2487" r="41" fill="#f05040" fill-opacity="0.6"/>
<circle cx="2736" cy="2487" r="39.2" fill="#f05040" fill-opacity="0.6"/>
<circle cx="3137" cy="2487" r="38.8" fill="#f05040" fill-opacity="0.6"/>
<line x1="584.5" y1="2423" x2="584.5" y2="2807" stroke="#b2b2b2" stroke-width="2" stroke-dasharray="3 3"/>
<line x1="976" y1="2423" x2="976" y2="2807" stroke="#b2b2b2" stroke-width="2" stroke-dasharray="3 3"/>
<line x1="1366.8" y1="2423" x2="1366.8" y2="2807" stroke="#b2b2b2" stroke-width="2" stroke-dasharray="3 3"/>
<line x1="1758.5" y1="2423" x2="1758.5" y2="2807" stroke="#b2b2b2" stroke-width="2" stroke-dasharray="3 3"/>
<line x1="2150" y1="2423" x2="2150" y2="2807" stroke="#b2b2b2" stroke-width="2" stroke-dasharray="3 3"/>
<line x1="2540" y1="2423" x2="2540" y2="2807" stroke="#b2b2b2" stroke-width="2" stroke-dasharray="3 3"/>
<line x1="2932.6" y1="2423" x2="2932.6" y2="2807" stroke="#b2b2b2" stroke-width="2" stroke-dasharray="3 3"/>
<rect x="275.6" y="2387.3" width="2935" height="3.4" fill="#d9d9d9"/>
<rect x="192" y="2886.4" width="3004.5" height="2.6" fill="#555"/>
<circle cx="3124.6" cy="4561.7" r="13" fill="#111"/>
<use href="#money" transform="translate(330.0,1220.0) scale(0.1970)"/>
<use href="#redship" transform="translate(1440.0,1030.0) scale(0.3079)"/>
<use href="#redflag" transform="translate(1440.0,1030.0) scale(0.3079)"/>
<use href="#blueship" transform="translate(2400.0,990.0) scale(0.3079)"/>
<use href="#blueflag" transform="translate(2400.0,990.0) scale(0.3079)"/>
<use href="#blueship" transform="translate(1646.1,1587.6) scale(0.2534)"/>
<use href="#blueflag" transform="translate(1625.5,1570.5) scale(0.3079)"/>
<use href="#redship" transform="translate(2680.7,1637.7) scale(0.2439)"/>
<use href="#redflag" transform="translate(2624.1,1611.0) scale(0.3079)"/>
<use href="#cruise" transform="translate(280.0,2060.0) scale(0.1847)"/>
<use href="#blueship" transform="translate(2045.0,2280.5) scale(0.2155)"/>
<use href="#blueflag" transform="translate(2010.1,2251.5) scale(0.3079)"/>
<use href="#redship" transform="translate(846.2,2725.2) scale(0.2094)"/>
<use href="#redflag" transform="translate(759.1,2684.1) scale(0.3079)"/>
</svg>
<div class="r" style="left:2889.8px;top:357.0px;width:2.5px;height:82.0px;background:#666"></div>
<div class="r" style="left:3202.8px;top:357.0px;width:2.5px;height:82.0px;background:#666"></div>
<div class="t se" style="left:2928.5px;top:351.2px;font-size:43px;color:#222;font-weight:700;transform:scaleX(0.9265);transform-origin:left top;">Pulso</div>
<div class="t se" style="left:3022.5px;top:351.2px;font-size:43px;color:#b8b8b8;font-weight:700;transform:scaleX(0.9807);transform-origin:left top;">Domingo</div>
<div class="t se" style="left:2976.4px;top:397.6px;font-size:37px;color:#7a7a7a;transform:scaleX(0.9757);transform-origin:right top;">08 | jun | 2025</div>
<div class="t se" style="left:3240.0px;top:365.9px;font-size:58px;color:#b0b0b0;font-weight:700;transform:scaleX(0.9594);transform-origin:left top;">P</div>
<div class="t se" style="left:3273.0px;top:365.9px;font-size:58px;color:#222;font-weight:700;transform:scaleX(0.8940);transform-origin:left top;">11</div>
<div class="r" style="left:192.0px;top:712.0px;width:3136.0px;height:2px;background:#555"></div>
<div class="t sa" style="left:192.0px;top:733.6px;font-size:39.5px;color:#111;font-weight:700;letter-spacing:-1.5px;word-spacing:-3px;transform:scaleX(0.9249);transform-origin:left top;-webkit-text-stroke:1.8px #111;">BALANCE COMERCIAL ENTRE CHILE Y ESTADOS UNIDOS</div>
<div class="r" style="left:192.0px;top:816.0px;width:3136.0px;height:2px;background:#777"></div>
<div class="t sa" style="left:192.0px;top:852.5px;font-size:36px;color:#1a1a1a;font-weight:700;transform:scaleX(0.9650);transform-origin:left top;">20 años de intercambio comercial Chile-EE.UU.</div>
<div class="t sa" style="left:192.0px;top:897.0px;font-size:36px;color:#333;transform:scaleX(0.9707);transform-origin:left top;">Millones de US$ FOB</div>
<div class="t sa" style="left:230.2px;top:984.1px;font-size:28px;color:#3a3a3a;transform:scaleX(1.2300);transform-origin:right top;">4000</div>
<div class="t sa" style="left:230.2px;top:1078.3px;font-size:28px;color:#3a3a3a;transform:scaleX(1.2300);transform-origin:right top;">2000</div>
<div class="t sa" style="left:276.9px;top:1172.5px;font-size:28px;color:#3a3a3a;transform:scaleX(1.2300);transform-origin:right top;">0</div>
<div class="t sa" style="left:220.9px;top:1266.7px;font-size:28px;color:#3a3a3a;transform:scaleX(1.2300);transform-origin:right top;">-2000</div>
<div class="t sa" style="left:220.9px;top:1360.9px;font-size:28px;color:#3a3a3a;transform:scaleX(1.2300);transform-origin:right top;">-4000</div>
<div class="t sa" style="left:220.9px;top:1455.1px;font-size:28px;color:#3a3a3a;transform:scaleX(1.2300);transform-origin:right top;">-6000</div>
<div class="t sa" style="left:220.9px;top:1549.3px;font-size:28px;color:#3a3a3a;transform:scaleX(1.2300);transform-origin:right top;">-8000</div>
<div class="t sa" style="left:534.0px;top:987.0px;font-size:36px;color:#a9a9a9;font-weight:700;transform:scaleX(0.9606);transform-origin:left top;">SALDO BALANZA COMERCIAL</div>
<div class="t sa" style="left:375.8px;top:1587.0px;font-size:29.5px;color:#2a2a2a;transform:scaleX(1.1600);transform-origin:center top;">2005</div>
<div class="t sa" style="left:578.7px;top:1587.0px;font-size:29.5px;color:#2a2a2a;transform:scaleX(1.1600);transform-origin:center top;">2010</div>
<div class="t sa" style="left:781.5px;top:1587.0px;font-size:29.5px;color:#2a2a2a;transform:scaleX(1.1600);transform-origin:center top;">2015</div>
<div class="t sa" style="left:984.4px;top:1587.0px;font-size:29.5px;color:#2a2a2a;transform:scaleX(1.1600);transform-origin:center top;">2020</div>
<div class="t sa" style="left:1146.0px;top:1587.0px;font-size:29.5px;color:#2a2a2a;transform:scaleX(1.1600);transform-origin:center top;">2024</div>
<div class="t sa" style="left:316.0px;top:1067.7px;font-size:30.5px;color:#111;font-weight:700;transform:scaleX(0.9105);transform-origin:left top;">1.181</div>
<div class="t sa" style="left:1271.1px;top:982.1px;font-size:28px;color:#3a3a3a;transform:scaleX(1.2300);transform-origin:right top;">20000</div>
<div class="t sa" style="left:1271.1px;top:1094.7px;font-size:28px;color:#3a3a3a;transform:scaleX(1.2300);transform-origin:right top;">16000</div>
<div class="t sa" style="left:1271.1px;top:1207.3px;font-size:28px;color:#3a3a3a;transform:scaleX(1.2300);transform-origin:right top;">12000</div>
<div class="t sa" style="left:1286.7px;top:1320.0px;font-size:28px;color:#3a3a3a;transform:scaleX(1.2300);transform-origin:right top;">8000</div>
<div class="t sa" style="left:1286.7px;top:1432.6px;font-size:28px;color:#3a3a3a;transform:scaleX(1.2300);transform-origin:right top;">4000</div>
<div class="t sa" style="left:1333.4px;top:1545.2px;font-size:28px;color:#3a3a3a;transform:scaleX(1.2300);transform-origin:right top;">0</div>
<div class="t sa" style="left:1643.0px;top:987.0px;font-size:36px;color:#a9a9a9;font-weight:700;transform:scaleX(0.9600);transform-origin:left top;">EXPORTACIONES</div>
<div class="t sa" style="left:1428.9px;top:1587.0px;font-size:29.5px;color:#2a2a2a;transform:scaleX(1.1600);transform-origin:center top;">2005</div>
<div class="t sa" style="left:1632.2px;top:1587.0px;font-size:29.5px;color:#2a2a2a;transform:scaleX(1.1600);transform-origin:center top;">2010</div>
<div class="t sa" style="left:1835.4px;top:1587.0px;font-size:29.5px;color:#2a2a2a;transform:scaleX(1.1600);transform-origin:center top;">2015</div>
<div class="t sa" style="left:2038.7px;top:1587.0px;font-size:29.5px;color:#2a2a2a;transform:scaleX(1.1600);transform-origin:center top;">2020</div>
<div class="t sa" style="left:2198.9px;top:1587.0px;font-size:29.5px;color:#2a2a2a;transform:scaleX(1.1600);transform-origin:center top;">2024</div>
<div class="t sa" style="left:1348.5px;top:1371.9px;font-size:32px;color:#111;font-weight:700;transform:scaleX(1.0989);transform-origin:left top;">3.782</div>
<div class="t sa" style="left:2326.1px;top:982.1px;font-size:28px;color:#3a3a3a;transform:scaleX(1.2300);transform-origin:right top;">25000</div>
<div class="t sa" style="left:2326.1px;top:1094.7px;font-size:28px;color:#3a3a3a;transform:scaleX(1.2300);transform-origin:right top;">20000</div>
<div class="t sa" style="left:2326.1px;top:1207.3px;font-size:28px;color:#3a3a3a;transform:scaleX(1.2300);transform-origin:right top;">15000</div>
<div class="t sa" style="left:2326.1px;top:1320.0px;font-size:28px;color:#3a3a3a;transform:scaleX(1.2300);transform-origin:right top;">10000</div>
<div class="t sa" style="left:2341.7px;top:1432.6px;font-size:28px;color:#3a3a3a;transform:scaleX(1.2300);transform-origin:right top;">5000</div>
<div class="t sa" style="left:2388.4px;top:1545.2px;font-size:28px;color:#3a3a3a;transform:scaleX(1.2300);transform-origin:right top;">0</div>
<div class="t sa" style="left:2679.5px;top:987.0px;font-size:36px;color:#a9a9a9;font-weight:700;transform:scaleX(0.9740);transform-origin:left top;">IMPORTACIONES</div>
<div class="t sa" style="left:2487.6px;top:1587.0px;font-size:29.5px;color:#2a2a2a;transform:scaleX(1.1600);transform-origin:center top;">2005</div>
<div class="t sa" style="left:2690.8px;top:1587.0px;font-size:29.5px;color:#2a2a2a;transform:scaleX(1.1600);transform-origin:center top;">2010</div>
<div class="t sa" style="left:2894.1px;top:1587.0px;font-size:29.5px;color:#2a2a2a;transform:scaleX(1.1600);transform-origin:center top;">2015</div>
<div class="t sa" style="left:3097.3px;top:1587.0px;font-size:29.5px;color:#2a2a2a;transform:scaleX(1.1600);transform-origin:center top;">2020</div>
<div class="t sa" style="left:3258.2px;top:1587.0px;font-size:29.5px;color:#2a2a2a;transform:scaleX(1.1600);transform-origin:center top;">2024</div>
<div class="t sa" style="left:2344.0px;top:1475.8px;font-size:31px;color:#111;font-weight:700;transform:scaleX(1.1086);transform-origin:left top;">2.601</div>
<div class="t sa" style="left:1115.5px;top:1076.0px;font-size:73.3px;color:#1c1c1c;font-weight:700;transform:scaleX(0.6828);transform-origin:left top;">735</div>
<div class="t sa" style="left:2100.5px;top:1048.5px;font-size:73.3px;color:#1c1c1c;font-weight:700;transform:scaleX(0.6735);transform-origin:left top;">15.528</div>
<div class="t sa" style="left:3159.0px;top:1032.0px;font-size:73.3px;color:#1c1c1c;font-weight:700;transform:scaleX(0.6557);transform-origin:left top;">14.793</div>
<div class="t sa" style="left:759.9px;top:2102.1px;font-size:33px;color:#1c1c1c;font-weight:700;transform:scaleX(1.2000);transform-origin:center top;">5.621,6</div>
<div class="t sa" style="left:733.2px;top:2150.1px;font-size:32px;color:#333;transform:scaleX(1.0216);transform-origin:center top;">Cátodos de</div>
<div class="t sa" style="left:712.7px;top:2185.4px;font-size:32px;color:#333;transform:scaleX(1.0216);transform-origin:center top;">cobre refinado</div>
<div class="t sa" style="left:743.5px;top:2279.5px;font-size:72.6px;color:#d31f43;font-weight:700;transform:scaleX(0.7068);transform-origin:left top;">34,5%</div>
<div class="t sa" style="left:1123.4px;top:2102.1px;font-size:33px;color:#1c1c1c;font-weight:700;transform:scaleX(1.2000);transform-origin:center top;">1.564,7</div>
<div class="t sa" style="left:1036.2px;top:2150.1px;font-size:32px;color:#333;transform:scaleX(1.0216);transform-origin:center top;">Filetes de salmones</div>
<div class="t sa" style="left:1030.9px;top:2185.4px;font-size:32px;color:#333;transform:scaleX(1.0216);transform-origin:center top;">del Atlántico (frescos</div>
<div class="t sa" style="left:1074.5px;top:2220.7px;font-size:32px;color:#333;transform:scaleX(1.0216);transform-origin:center top;">o refrigerados)</div>
<div class="t sa" style="left:1119.7px;top:2279.5px;font-size:72.6px;color:#d31f43;font-weight:700;transform:scaleX(0.7059);transform-origin:left top;">9,6%</div>
<div class="t sa" style="left:1528.2px;top:2102.1px;font-size:33px;color:#1c1c1c;font-weight:700;transform:scaleX(1.2000);transform-origin:center top;">691,3</div>
<div class="t sa" style="left:1472.6px;top:2150.1px;font-size:32px;color:#333;transform:scaleX(1.0216);transform-origin:center top;">Uvas frescas,</div>
<div class="t sa" style="left:1446.8px;top:2185.4px;font-size:32px;color:#333;transform:scaleX(1.0216);transform-origin:center top;">convencionales y</div>
<div class="t sa" style="left:1435.2px;top:2220.7px;font-size:32px;color:#333;transform:scaleX(1.0216);transform-origin:center top;">nuevas variedades</div>
<div class="t sa" style="left:1510.0px;top:2279.5px;font-size:72.6px;color:#d31f43;font-weight:700;transform:scaleX(0.7155);transform-origin:left top;">4,2%</div>
<div class="t sa" style="left:1915.7px;top:2102.1px;font-size:33px;color:#1c1c1c;font-weight:700;transform:scaleX(1.2000);transform-origin:center top;">498,9</div>
<div class="t sa" style="left:1814.7px;top:2150.1px;font-size:32px;color:#333;transform:scaleX(1.0216);transform-origin:center top;">Filetes de salmones</div>
<div class="t sa" style="left:1870.7px;top:2185.4px;font-size:32px;color:#333;transform:scaleX(1.0216);transform-origin:center top;">del Atlántico</div>
<div class="t sa" style="left:1860.9px;top:2220.7px;font-size:32px;color:#333;transform:scaleX(1.0216);transform-origin:center top;">(Congelados)</div>
<div class="t sa" style="left:1902.0px;top:2279.5px;font-size:72.6px;color:#d31f43;font-weight:700;transform:scaleX(0.6515);transform-origin:left top;">3,1%</div>
<div class="t sa" style="left:2310.7px;top:2102.1px;font-size:33px;color:#1c1c1c;font-weight:700;transform:scaleX(1.2000);transform-origin:center top;">355,7</div>
<div class="t sa" style="left:2211.5px;top:2150.1px;font-size:32px;color:#333;transform:scaleX(1.0216);transform-origin:center top;">Neumáticos nuevos</div>
<div class="t sa" style="left:2194.6px;top:2185.4px;font-size:32px;color:#333;transform:scaleX(1.0216);transform-origin:center top;">de caucho (usados en</div>
<div class="t sa" style="left:2228.4px;top:2220.7px;font-size:32px;color:#333;transform:scaleX(1.0216);transform-origin:center top;">autos de turismo)</div>
<div class="t sa" style="left:2293.6px;top:2279.5px;font-size:72.6px;color:#d31f43;font-weight:700;transform:scaleX(0.6835);transform-origin:left top;">2,2%</div>
<div class="t sa" style="left:2690.7px;top:2102.1px;font-size:33px;color:#1c1c1c;font-weight:700;transform:scaleX(1.2000);transform-origin:center top;">258,4</div>
<div class="t sa" style="left:2666.2px;top:2150.1px;font-size:32px;color:#333;transform:scaleX(1.0216);transform-origin:center top;">Perfiles y</div>
<div class="t sa" style="left:2644.0px;top:2185.4px;font-size:32px;color:#333;transform:scaleX(1.0216);transform-origin:center top;">molduras de</div>
<div class="t sa" style="left:2666.2px;top:2220.7px;font-size:32px;color:#333;transform:scaleX(1.0216);transform-origin:center top;">coníferas</div>
<div class="t sa" style="left:2662.0px;top:2279.5px;font-size:72.6px;color:#d31f43;font-weight:700;transform:scaleX(0.6830);transform-origin:left top;">1,60%</div>
<div class="t sa" style="left:3091.2px;top:2102.1px;font-size:33px;color:#1c1c1c;font-weight:700;transform:scaleX(1.2000);transform-origin:center top;">246,6</div>
<div class="t sa" style="left:3072.0px;top:2150.1px;font-size:32px;color:#333;transform:scaleX(1.0216);transform-origin:center top;">Lingotes</div>
<div class="t sa" style="left:3075.6px;top:2185.4px;font-size:32px;color:#333;transform:scaleX(1.0216);transform-origin:center top;">de plata</div>
<div class="t sa" style="left:3061.0px;top:2279.5px;font-size:72.6px;color:#d31f43;font-weight:700;transform:scaleX(0.6898);transform-origin:left top;">1,50%</div>
<div class="t sa" style="left:349.7px;top:2555.1px;font-size:33px;color:#1c1c1c;font-weight:700;transform:scaleX(1.2000);transform-origin:center top;">240,6</div>
<div class="t sa" style="left:273.6px;top:2605.1px;font-size:32px;color:#333;transform:scaleX(1.0216);transform-origin:center top;">Demás maderas</div>
<div class="t sa" style="left:277.1px;top:2640.4px;font-size:32px;color:#333;transform:scaleX(1.0216);transform-origin:center top;">contrachapadas</div>
<div class="t sa" style="left:318.5px;top:2730.9px;font-size:74.6px;color:#d31f43;font-weight:700;transform:scaleX(0.6690);transform-origin:left top;">1,50%</div>
<div class="t sa" style="left:736.1px;top:2555.1px;font-size:33px;color:#1c1c1c;font-weight:700;transform:scaleX(1.2000);transform-origin:center top;">224,9</div>
<div class="t sa" style="left:694.7px;top:2605.1px;font-size:32px;color:#333;transform:scaleX(1.0216);transform-origin:center top;">Tableros de</div>
<div class="t sa" style="left:696.5px;top:2640.4px;font-size:32px;color:#333;transform:scaleX(1.0216);transform-origin:center top;">fibra (MDF)</div>
<div class="t sa" style="left:705.7px;top:2730.9px;font-size:74.6px;color:#d31f43;font-weight:700;transform:scaleX(0.6742);transform-origin:left top;">1,40%</div>
<div class="t sa" style="left:1124.7px;top:2555.1px;font-size:33px;color:#1c1c1c;font-weight:700;transform:scaleX(1.2000);transform-origin:center top;">200,5</div>
<div class="t sa" style="left:1118.1px;top:2605.1px;font-size:32px;color:#333;transform:scaleX(1.0216);transform-origin:center top;">Yodo</div>
<div class="t sa" style="left:1094.0px;top:2730.9px;font-size:74.6px;color:#d31f43;font-weight:700;transform:scaleX(0.6713);transform-origin:left top;">1,20%</div>
<div class="t sa" style="left:1522.2px;top:2555.1px;font-size:33px;color:#1c1c1c;font-weight:700;transform:scaleX(1.2000);transform-origin:center top;">186,4</div>
<div class="t sa" style="left:1451.4px;top:2605.1px;font-size:32px;color:#333;transform:scaleX(1.0216);transform-origin:center top;">Ferromolibdeno</div>
<div class="t sa" style="left:1496.0px;top:2730.9px;font-size:74.6px;color:#d31f43;font-weight:700;transform:scaleX(0.6364);transform-origin:left top;">1,10%</div>
<div class="t sa" style="left:1926.5px;top:2555.1px;font-size:33px;color:#1c1c1c;font-weight:700;transform:scaleX(1.2000);transform-origin:center top;">154</div>
<div class="t sa" style="left:1816.1px;top:2605.1px;font-size:32px;color:#333;transform:scaleX(1.0216);transform-origin:center top;">Tableros laminados</div>
<div class="t sa" style="left:1846.4px;top:2640.4px;font-size:32px;color:#333;transform:scaleX(1.0216);transform-origin:center top;">de pino insigne</div>
<div class="t sa" style="left:1880.0px;top:2730.9px;font-size:74.6px;color:#d31f43;font-weight:700;transform:scaleX(0.6903);transform-origin:left top;">0,90%</div>
<div class="t sa" style="left:2304.7px;top:2555.1px;font-size:33px;color:#1c1c1c;font-weight:700;transform:scaleX(1.2000);transform-origin:center top;">152,5</div>
<div class="t sa" style="left:2285.5px;top:2605.1px;font-size:32px;color:#333;transform:scaleX(1.0216);transform-origin:center top;">Lingotes</div>
<div class="t sa" style="left:2300.6px;top:2640.4px;font-size:32px;color:#333;transform:scaleX(1.0216);transform-origin:center top;">de oro</div>
<div class="t sa" style="left:2273.5px;top:2730.9px;font-size:74.6px;color:#d31f43;font-weight:700;transform:scaleX(0.6879);transform-origin:left top;">0,90%</div>
<div class="t sa" style="left:2696.2px;top:2555.1px;font-size:33px;color:#1c1c1c;font-weight:700;transform:scaleX(1.2000);transform-origin:center top;">140,4</div>
<div class="t sa" style="left:2649.5px;top:2605.1px;font-size:32px;color:#333;transform:scaleX(1.0216);transform-origin:center top;">Mandarinas,</div>
<div class="t sa" style="left:2573.0px;top:2640.4px;font-size:32px;color:#333;transform:scaleX(1.0216);transform-origin:center top;">tangerinas y satsumas,</div>
<div class="t sa" style="left:2685.9px;top:2675.7px;font-size:32px;color:#333;transform:scaleX(1.0216);transform-origin:center top;">frescas</div>
<div class="t sa" style="left:2664.3px;top:2730.9px;font-size:74.6px;color:#d31f43;font-weight:700;transform:scaleX(0.6955);transform-origin:left top;">0,90%</div>
<div class="t sa" style="left:3098.2px;top:2555.1px;font-size:33px;color:#1c1c1c;font-weight:700;transform:scaleX(1.2000);transform-origin:center top;">137,8</div>
<div class="t sa" style="left:3011.4px;top:2605.1px;font-size:32px;color:#333;transform:scaleX(1.0216);transform-origin:center top;">Arándanos azules</div>
<div class="t sa" style="left:3024.8px;top:2640.4px;font-size:32px;color:#333;transform:scaleX(1.0216);transform-origin:center top;">convencionales,</div>
<div class="t sa" style="left:3087.9px;top:2675.7px;font-size:32px;color:#333;transform:scaleX(1.0216);transform-origin:center top;">frescos</div>
<div class="t sa" style="left:3068.5px;top:2730.9px;font-size:74.6px;color:#d31f43;font-weight:700;transform:scaleX(0.6917);transform-origin:left top;">0,80%</div>
<div class="t sa" style="left:614.0px;top:2296.6px;font-size:26.5px;color:#1c1c1c;font-weight:700;">Partic.</div>
<div class="t sa" style="left:198.0px;top:2751.6px;font-size:26.5px;color:#1c1c1c;font-weight:700;">Partic.</div>
<div class="t sa" style="left:192.0px;top:1780.5px;font-size:36px;color:#1a1a1a;font-weight:700;transform:scaleX(0.9495);transform-origin:left top;">Principales productos</div>
<div class="t sa" style="left:192.0px;top:1825.0px;font-size:36px;color:#1a1a1a;font-weight:700;transform:scaleX(0.9495);transform-origin:left top;">exportados por Chile</div>
<div class="t sa" style="left:192.0px;top:1869.5px;font-size:36px;color:#1a1a1a;font-weight:700;transform:scaleX(0.9495);transform-origin:left top;">a EE.UU.</div>
<div class="t sa" style="left:192.0px;top:1915.0px;font-size:36px;color:#333;transform:scaleX(1.0036);transform-origin:left top;">En millones de</div>
<div class="t sa" style="left:192.0px;top:1959.5px;font-size:36px;color:#333;transform:scaleX(1.0036);transform-origin:left top;">US$ en 2024.</div>
<div class="t sa" style="left:188.5px;top:2918.1px;font-size:23.5px;color:#444;transform:scaleX(1.0681);transform-origin:left top;">FUENTE:Subrei y Banco Central</div>
<div class="t sa" style="left:3040.0px;top:2917.7px;font-size:24px;color:#161616;font-weight:700;transform:scaleX(1.0144);transform-origin:left top;-webkit-text-stroke:0.6px #161616;">LA TERCERA</div>
<div class="r" style="left:3220px;top:2841px;width:109px;height:103.6px;background:#dc1a2e"></div>
<div class="t sa" style="left:3227.5px;top:2844.9px;font-size:97px;color:#fff;transform:scaleX(0.9267);transform-origin:left top;-webkit-text-stroke:2px #fff;">L</div>
<div class="t sa" style="left:3265.0px;top:2847.4px;font-size:94px;color:#fff;transform:scaleX(0.9056);transform-origin:left top;-webkit-text-stroke:2px #fff;">T</div>
<div class="t se b" style="left:184.7px;top:3040.5px;word-spacing:-0.94px;">cio público”, afirma Seguel, quien destaca</div>
<div class="t se b" style="left:184.7px;top:3092.2px;word-spacing:3.47px;">a la industria salmonera como de alta re-</div>
<div class="t se b" style="left:184.7px;top:3143.9px;word-spacing:-2.00px;">siliencia y muy diversificada.</div>
<div class="t se b" style="left:210.7px;top:3195.6px;word-spacing:-2.00px;">La ejecutiva comenta también que el epi-</div>
<div class="t se b" style="left:184.7px;top:3247.3px;word-spacing:2.65px;">sodio de alza de aranceles ha confirmado</div>
<div class="t se b" style="left:184.7px;top:3299.0px;word-spacing:-1.19px;">la vocación diversificación de la industria.</div>
<div class="t se b" style="left:184.7px;top:3350.7px;word-spacing:1.07px;">“Hoy el salmón chileno ya llega a más de</div>
<div class="t se b" style="left:184.7px;top:3402.4px;word-spacing:6.22px;">100 mercados y eso muestra que es una</div>
<div class="t se b" style="left:184.7px;top:3454.1px;word-spacing:-1.80px;">ventaja competitiva al minuto de decir que</div>
<div class="t se b" style="left:184.7px;top:3505.8px;word-spacing:14.79px;">somos una industria bastante diversifi-</div>
<div class="t se b" style="left:184.7px;top:3557.5px;word-spacing:1.84px;">cada”, afirma Seguel, quien llegó esta se-</div>
<div class="t se b" style="left:184.7px;top:3609.2px;word-spacing:-1.37px;">mana de un viaje que incluyó Japón (Expo</div>
<div class="t se b" style="left:184.7px;top:3660.9px;word-spacing:2.23px;">Osaka), China, Italia y Francia para posi-</div>
<div class="t se b" style="left:184.7px;top:3712.6px;word-spacing:-2.00px;">cionar a la industria a nivel internacional.</div>
<div class="t se b" style="left:210.7px;top:3764.3px;word-spacing:4.83px;">“Hay que esperar los datos oficiales de</div>
<div class="t se b" style="left:184.7px;top:3816.0px;word-spacing:11.62px;">exportación para hacer un análisis más</div>
<div class="t se b" style="left:184.7px;top:3867.7px;word-spacing:2.43px;">exhaustivo de cuál es el real impacto que</div>
<div class="t se b" style="left:184.7px;top:3919.4px;word-spacing:2.72px;">tiene esto hoy en la industria. Sin embar-</div>
<div class="t se b" style="left:184.7px;top:3971.1px;word-spacing:1.23px;">go, tener un 10% de arancel que hace dos</div>
<div class="t se b" style="left:184.7px;top:4022.8px;word-spacing:-0.18px;">meses o tres meses no existía, por supues-</div>
<div class="t se b" style="left:184.7px;top:4074.5px;word-spacing:6.40px;">to que genera impacto. Lo que no sabe-</div>
<div class="t se b" style="left:184.7px;top:4126.2px;word-spacing:4.49px;">mos es si es un impacto directo respecto</div>
<div class="t se b" style="left:184.7px;top:4177.9px;word-spacing:5.04px;">a Estados Unidos o un impacto colateral</div>
<div class="t se b" style="left:184.7px;top:4229.6px;word-spacing:6.53px;">respecto de otros mercados... porque los</div>
<div class="t se b" style="left:184.7px;top:4281.3px;word-spacing:10.87px;">competidores también se movieron... lo</div>
<div class="t se b" style="left:184.7px;top:4333.0px;word-spacing:6.74px;">que pase con el salmón noruego, con el</div>
<div class="t se b" style="left:184.7px;top:4384.7px;word-spacing:13.79px;">salmón escocés, con el salmón austra-</div>
<div class="t se b" style="left:184.7px;top:4436.4px;word-spacing:2.56px;">liano, no está aislado de lo que le pasa al</div>
<div class="t se b" style="left:184.7px;top:4488.1px;word-spacing:3.23px;">salmón chileno. Esta es una nueva confi-</div>
<div class="t se b" style="left:184.7px;top:4539.8px;word-spacing:5.35px;">guración geocomercial que se está insta-</div>
<div class="t se b" style="left:982.7px;top:3040.5px;word-spacing:4.43px;">lando y eso nos preocupa. Es importante</div>
<div class="t se b" style="left:982.7px;top:3092.2px;word-spacing:-0.20px;">para nosotros la gira que acabamos de ter-</div>
<div class="t se b" style="left:982.7px;top:3143.9px;word-spacing:-2.00px;">minar, recorriendo mercados”, destaca.</div>
<div class="t se b" style="left:1008.7px;top:3195.6px;word-spacing:3.27px;">Desde el otro gremio que aglutina a los</div>
<div class="t se b" style="left:982.7px;top:3247.3px;word-spacing:13.01px;">exportadores del salmón coinciden con</div>
<div class="t se b" style="left:982.7px;top:3299.0px;word-spacing:8.48px;">el complejo panorama. El presidente de</div>
<div class="t se b" style="left:982.7px;top:3350.7px;word-spacing:0.47px;">SalmonChile, Arturo Clément, dice que si</div>
<div class="t se b" style="left:982.7px;top:3402.4px;word-spacing:1.05px;">bien ha habido un impacto en la demanda</div>
<div class="t se b" style="left:982.7px;top:3454.1px;word-spacing:5.54px;">de salmón chileno en el mercado de Es-</div>
<div class="t se b" style="left:982.7px;top:3505.8px;word-spacing:6.28px;">tados Unidos tras la implementación del</div>
<div class="t se b" style="left:982.7px;top:3557.5px;word-spacing:3.99px;">arancel del 10%, afirma que este ha sido</div>
<div class="t se b" style="left:982.7px;top:3609.2px;word-spacing:-0.18px;">difícil de cuantificar. “Pero sí, la demanda</div>
<div class="t se b" style="left:982.7px;top:3660.9px;word-spacing:2.88px;">se mantiene débil y no se ha logrado una</div>
<div class="t se b" style="left:982.7px;top:3712.6px;word-spacing:6.69px;">recuperación en estas primeras semanas.</div>
<div class="t se b" style="left:982.7px;top:3764.3px;word-spacing:3.79px;">Sí hay un impacto en los otros mercados</div>
<div class="t se b" style="left:982.7px;top:3816.0px;word-spacing:8.46px;">de destino del salmón chileno, desde el</div>
<div class="t se b" style="left:982.7px;top:3867.7px;word-spacing:8.80px;">punto de vista de los ajustes de precio,</div>
<div class="t se b" style="left:982.7px;top:3919.4px;word-spacing:-0.98px;">como un efecto de las negativas expectati-</div>
<div class="t se b" style="left:982.7px;top:3971.1px;word-spacing:-0.01px;">vas futuras de los impactos de los mismos</div>
<div class="t se b" style="left:982.7px;top:4022.8px;word-spacing:-2.00px;">aranceles de EE.UU.”, explica.</div>
<div class="t se b" style="left:1008.7px;top:4074.5px;word-spacing:2.59px;">En relación a la estrategia usada por las</div>
<div class="t se b" style="left:982.7px;top:4126.2px;word-spacing:1.49px;">empresas salmoneras para evitar los efec-</div>
<div class="t se b" style="left:982.7px;top:4177.9px;word-spacing:8.47px;">tos nocivos de estos mayores aranceles,</div>
<div class="t se b" style="left:982.7px;top:4229.6px;word-spacing:1.47px;">Arturo Clément destaca el trabajo coordi-</div>
<div class="t se b" style="left:982.7px;top:4281.3px;word-spacing:-1.71px;">nado entre el sector público y privado para</div>
<div class="t se b" style="left:982.7px;top:4333.0px;word-spacing:6.27px;">intentar llegar a un acuerdo que permita</div>
<div class="t se b" style="left:982.7px;top:4384.7px;word-spacing:-4.21px;">eliminar por completo este arancel del 10%</div>
<div class="t se b" style="left:982.7px;top:4436.4px;word-spacing:-0.57px;">y recuperar las condiciones de acceso pre-</div>
<div class="t se b" style="left:982.7px;top:4488.1px;word-spacing:-2.00px;">ferencial al mercado estadounidense.</div>
<div class="t se b" style="left:1008.7px;top:4539.8px;word-spacing:7.61px;">“También abordar lo que hemos deno-</div>
<div class="t se b" style="left:1779.7px;top:3040.5px;word-spacing:8.95px;">minado el ‘arancel invisible’, las múlti-</div>
<div class="t se b" style="left:1779.7px;top:3092.2px;word-spacing:11.79px;">ples trabas administrativas internas que</div>
<div class="t se b" style="left:1779.7px;top:3143.9px;word-spacing:5.36px;">afectan la eficiencia y competitividad de</div>
<div class="t se b" style="left:1779.7px;top:3195.6px;word-spacing:8.24px;">nuestro sector. Por lo tanto, hemos sos-</div>
<div class="t se b" style="left:1779.7px;top:3247.3px;word-spacing:13.07px;">tenido reuniones con la autoridad para</div>
<div class="t se b" style="left:1779.7px;top:3299.0px;word-spacing:13.62px;">buscar mecanismos para eliminar estas</div>
<div class="t se b" style="left:1779.7px;top:3350.7px;word-spacing:2.09px;">barreras y así mejorar la posición del sal-</div>
<div class="t se b" style="left:1779.7px;top:3402.4px;word-spacing:3.40px;">món chileno, no sólo en Estados Unidos,</div>
<div class="t se b" style="left:1779.7px;top:3454.1px;word-spacing:4.35px;">sino en todos los mercados internaciona-</div>
<div class="t se b" style="left:1779.7px;top:3505.8px;word-spacing:-2.00px;">les”, concluye.</div>
<div class="t se b" style="left:1805.7px;top:3557.5px;word-spacing:7.71px;">El sector vitivinícola, un producto que</div>
<div class="t se b" style="left:1779.7px;top:3609.2px;word-spacing:12.59px;">ha recuperado su presencia en Estados</div>
<div class="t se b" style="left:1779.7px;top:3660.9px;word-spacing:5.64px;">Unidos, también es cauto. De hecho, las</div>
<div class="t se b" style="left:1779.7px;top:3712.6px;word-spacing:11.14px;">cifras oficiales en abril posicionaron al</div>
<div class="t se b" style="left:1779.7px;top:3764.3px;word-spacing:18.44px;">país norteamericano como el segundo</div>
<div class="t se b" style="left:1779.7px;top:3816.0px;word-spacing:-1.03px;">mayor receptor de los envíos de los caldos</div>
<div class="t se b" style="left:1779.7px;top:3867.7px;word-spacing:4.04px;">chilenos, con un crecimiento del 15% en</div>
<div class="t se b" style="left:1779.7px;top:3919.4px;word-spacing:1.62px;">valor. Fuentes del sector confirman el va-</div>
<div class="t se b" style="left:1779.7px;top:3971.1px;word-spacing:2.64px;">lor de la diversificación de mercados que</div>
<div class="t se b" style="left:1779.7px;top:4022.8px;word-spacing:0.69px;">tienen los envíos chilenos de vinos y con-</div>
<div class="t se b" style="left:1779.7px;top:4074.5px;word-spacing:8.24px;">fidencian que hay algunas empresas del</div>
<div class="t se b" style="left:1779.7px;top:4126.2px;word-spacing:8.72px;">rubro que han aprovechado las ventajas</div>
<div class="t se b" style="left:1779.7px;top:4177.9px;word-spacing:0.37px;">que ha abierto la disputa arancelaria y po-</div>
<div class="t se b" style="left:1779.7px;top:4229.6px;word-spacing:-2.19px;">lítica entre EE.UU. y Canadá para posicio-</div>
<div class="t se b" style="left:1779.7px;top:4281.3px;word-spacing:-2.00px;">narse mejor en este último país.</div>
<div class="t se b" style="left:1805.7px;top:4333.0px;word-spacing:8.91px;">“Ni <i>bourbon</i> ni vino californiano: Ca-</div>
<div class="t se b" style="left:1779.7px;top:4384.7px;word-spacing:6.57px;">nadá retira el alcohol de EE.UU. de sus</div>
<div class="t se b" style="left:1779.7px;top:4436.4px;word-spacing:22.20px;">estanterías”, titulaba recientemente un</div>
<div class="t se b" style="left:1779.7px;top:4488.1px;word-spacing:3.94px;">artículo del The New York Times, donde</div>
<div class="t se b" style="left:1779.7px;top:4539.8px;word-spacing:11.20px;">describía que “boicotear” los productos</div>
<div class="t se b" style="left:2576.7px;top:3040.5px;word-spacing:4.06px;">estadounidenses se ha convertido en par-</div>
<div class="t se b" style="left:2576.7px;top:3092.2px;word-spacing:-0.26px;">te del orgullo nacional de los canadienses.</div>
<div class="t se b" style="left:2576.7px;top:3143.9px;word-spacing:6.05px;">De hecho, Canadá se posicionó como el</div>
<div class="t se b" style="left:2576.7px;top:3195.6px;word-spacing:3.39px;">sexto mayor destino de las exportaciones</div>
<div class="t se b" style="left:2576.7px;top:3247.3px;word-spacing:8.26px;">de vino chilenas en los primeros cuatro</div>
<div class="t se b" style="left:2576.7px;top:3299.0px;word-spacing:11.29px;">meses del año, con un crecimiento del</div>
<div class="t se b" style="left:2576.7px;top:3350.7px;word-spacing:-2.00px;">12%, según cifras oficiales.</div>
<div class="t se b" style="left:2602.7px;top:3402.4px;word-spacing:1.94px;">Consultada por Pulso, la Viña Concha y</div>
<div class="t se b" style="left:2576.7px;top:3454.1px;word-spacing:-1.29px;">Toro evita adelantar los eventuales efectos</div>
<div class="t se b" style="left:2576.7px;top:3505.8px;word-spacing:2.11px;">del alza de tarifas aduaneras en el merca-</div>
<div class="t se b" style="left:2576.7px;top:3557.5px;word-spacing:2.74px;">do de Estados Unidos. Sin embargo, des-</div>
<div class="t se b" style="left:2576.7px;top:3609.2px;word-spacing:4.51px;">taca la importancia de tener una filial en</div>
<div class="t se b" style="left:2576.7px;top:3660.9px;word-spacing:-2.00px;">ese país.</div>
<div class="t se b" style="left:2602.7px;top:3712.6px;word-spacing:7.07px;">“Lo que sí podemos decir es que con-</div>
<div class="t se b" style="left:2576.7px;top:3764.3px;word-spacing:3.53px;">tar con una filial en ese país desde 2011,</div>
<div class="t se b" style="left:2576.7px;top:3816.0px;word-spacing:6.22px;">Bonterra Organic Estates, es un elemen-</div>
<div class="t se b" style="left:2576.7px;top:3867.7px;word-spacing:3.10px;">to que ayuda a mitigar posibles riesgos y</div>
<div class="t se b" style="left:2576.7px;top:3919.4px;word-spacing:7.17px;">nos otorga una mayor flexibilidad. Ade-</div>
<div class="t se b" style="left:2576.7px;top:3971.1px;word-spacing:10.64px;">más, trabajamos en dos frentes. Busca-</div>
<div class="t se b" style="left:2576.7px;top:4022.8px;word-spacing:8.77px;">mos aprovechar todas las oportunidades</div>
<div class="t se b" style="left:2576.7px;top:4074.5px;word-spacing:2.45px;">comerciales que se puedan presentar ante</div>
<div class="t se b" style="left:2576.7px;top:4126.2px;word-spacing:3.83px;">este escenario, estando siempre muy cer-</div>
<div class="t se b" style="left:2576.7px;top:4177.9px;word-spacing:11.60px;">ca de nuestros distribuidores y clientes</div>
<div class="t se b" style="left:2576.7px;top:4229.6px;word-spacing:10.67px;">para mantener una relación con mirada</div>
<div class="t se b" style="left:2576.7px;top:4281.3px;word-spacing:10.79px;">de largo plazo. Asimismo, la compañía</div>
<div class="t se b" style="left:2576.7px;top:4333.0px;word-spacing:6.31px;">constantemente está en búsqueda de efi-</div>
<div class="t se b" style="left:2576.7px;top:4384.7px;word-spacing:5.47px;">ciencia y ahorros para mantener la com-</div>
<div class="t se b" style="left:2576.7px;top:4436.4px;word-spacing:10.65px;">petitividad en escenarios volátiles e in-</div>
<div class="t se b" style="left:2576.7px;top:4488.1px;word-spacing:3.05px;">ciertos”, declaró la viña, presente en más</div>
<div class="t se b" style="left:2576.7px;top:4539.8px;word-spacing:-2.00px;">de 140 mercados en el mundo.</div>
<div class="t sa" style="left:3118.3px;top:4552.1px;font-size:19px;color:#fff;font-weight:700;">P</div>
<div class="r" style="left:951.0px;top:3049.0px;width:3px;height:1551.0px;background:#707070"></div>
<div class="r" style="left:1748.0px;top:3049.0px;width:3px;height:1551.0px;background:#707070"></div>
<div class="r" style="left:2544.5px;top:3049.0px;width:3px;height:1551.0px;background:#707070"></div>
<div class="r" style="left:5px;top:2448px;width:62px;height:64px;background:#f8f8fa;border-radius:14px"></div>
<div class="r" style="left:3440px;top:2448px;width:64px;height:64px;background:#f8f8fa;border-radius:14px"></div>
<div class="r" style="left:750px;top:4879px;width:2008px;height:10px;background:#f6f6f8;border-radius:5px"></div>
<div class="r" style="left:750px;top:4879px;width:1826px;height:10px;background:#c5bdee;border-radius:5px 0 0 5px"></div>
<svg width="3508" height="4958" viewBox="0 0 3508 4958" style="pointer-events:none">
<circle cx="327.5" cy="1135.0" r="8" fill="#fff" stroke="#111" stroke-width="4.6"/>
<circle cx="1179.5" cy="1156.0" r="8" fill="#fff" stroke="#111" stroke-width="4.6"/>
<circle cx="1380.4" cy="1460.3" r="8" fill="#fff" stroke="#111" stroke-width="4.6"/>
<circle cx="2234.0" cy="1129.6" r="8" fill="#fff" stroke="#111" stroke-width="4.6"/>
<circle cx="2439.0" cy="1508.2" r="8" fill="#fff" stroke="#111" stroke-width="4.6"/>
<circle cx="3292.7" cy="1233.6" r="8" fill="#fff" stroke="#111" stroke-width="4.6"/>
<path d="M702,2299 L715,2310 L702,2321 Z" fill="#111"/>
<path d="M286,2754 L299,2765 L286,2776 Z" fill="#111"/>
<path d="M45.5,2461 L26.5,2480.3 L45.5,2499.6" fill="none" stroke="#3a2cc0" stroke-width="3" stroke-linecap="round" stroke-linejoin="miter"/>
<path d="M3463,2461 L3482.5,2480.3 L3463,2499.6" fill="none" stroke="#3a2cc0" stroke-width="3" stroke-linecap="round" stroke-linejoin="miter"/>
</svg>
</div></body></html>
